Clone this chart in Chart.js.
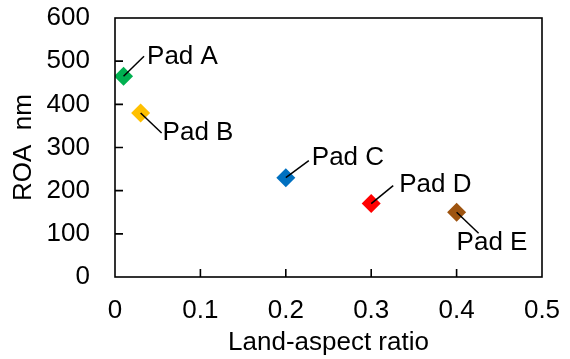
<!DOCTYPE html>
<html>
<head>
<meta charset="utf-8">
<script src="https://cdn.jsdelivr.net/npm/chart.js@4/dist/chart.umd.min.js"></script>
<style>
  html, body { margin: 0; padding: 0; background: #fff; }
  #wrap { width: 570px; height: 359px; }
</style>
</head>
<body>
<div id="wrap"><canvas id="c" width="570" height="359"></canvas></div>
<script>
const padNames = ["Pad A", "Pad B", "Pad C", "Pad D", "Pad E"];
const aspectRatio = [0.01, 0.03, 0.2, 0.3, 0.4];
const roaNm = [465, 380, 230, 170, 150];
const padColors = ["#00B050", "#FFC000", "#0070C0", "#FF0000", "#9E5410"];
const xTicks = [0, 0.1, 0.2, 0.3, 0.4, 0.5];
const yTicks = [0, 100, 200, 300, 400, 500, 600];

// label placement (leader line end offset from point, text anchor offset)
const labelPlacement = [
  { dx: 20.5, dy: -20, tx: 23.5, ty: -19 },
  { dx: 21, dy: 20, tx: 22, ty: 20 },
  { dx: 23, dy: -17, tx: 26, ty: -20 },
  { dx: 22, dy: -18, tx: 28, ty: -19 },
  { dx: 22, dy: 21, tx: 0, ty: 31 }
];

const font = "'Liberation Sans', Arial, sans-serif";

const framePlugin = {
  id: "frame",
  afterDraw(chart) {
    const { ctx, chartArea: a, scales } = chart;
    ctx.save();
    ctx.strokeStyle = "#000";
    ctx.lineWidth = 1.6;
    ctx.beginPath();
    yTicks.forEach(v => {
      if (v === yTicks[0] || v === yTicks[yTicks.length - 1]) return;
      const y = scales.y.getPixelForValue(v);
      ctx.moveTo(a.left, y); ctx.lineTo(a.left + 8, y);
    });
    xTicks.forEach(v => {
      if (v === xTicks[0] || v === xTicks[xTicks.length - 1]) return;
      const x = scales.x.getPixelForValue(v);
      ctx.moveTo(x, a.bottom); ctx.lineTo(x, a.bottom - 8);
    });
    ctx.stroke();
    ctx.strokeRect(a.left, a.top, a.right - a.left, a.bottom - a.top);
    ctx.restore();
  }
};

const labelPlugin = {
  id: "padLabels",
  afterDatasetsDraw(chart) {
    const { ctx, scales } = chart;
    ctx.save();
    ctx.strokeStyle = "#000";
    ctx.lineWidth = 1.5;
    ctx.fillStyle = "#000";
    ctx.font = "26px " + font;
    ctx.textBaseline = "middle";
    ctx.textAlign = "left";
    padNames.forEach((name, i) => {
      const px = scales.x.getPixelForValue(aspectRatio[i]);
      const py = scales.y.getPixelForValue(roaNm[i]);
      const p = labelPlacement[i];
      ctx.beginPath();
      ctx.moveTo(px, py);
      ctx.lineTo(px + p.dx, py + p.dy);
      ctx.stroke();
      ctx.fillText(name, px + p.tx, py + p.ty);
    });
    ctx.restore();
  }
};

new Chart(document.getElementById("c"), {
  type: "scatter",
  data: {
    datasets: [{
      data: aspectRatio.map((x, i) => ({ x, y: roaNm[i] })),
      pointStyle: "rectRot",
      pointRadius: 9.5,
      pointHoverRadius: 9.5,
      borderWidth: 0,
      backgroundColor: padColors,
      pointBackgroundColor: padColors,
      pointBorderColor: padColors
    }]
  },
  options: {
    responsive: false,
    animation: false,
    events: [],
    layout: { padding: { top: 18, right: 28, left: 0, bottom: 0 } },
    plugins: { legend: { display: false }, tooltip: { enabled: false } },
    scales: {
      x: {
        type: "linear",
        min: 0, max: 0.5,
        afterBuildTicks: s => { s.ticks = xTicks.map(v => ({ value: v })); },
        afterFit: s => { s.height = 82; s.paddingLeft = 0; s.paddingRight = 0; },
        grid: { display: false, drawTicks: false },
        border: { display: false },
        ticks: { color: "#000", font: { family: font, size: 26 }, padding: 18, maxRotation: 0,
                 callback: v => String(v) },
        title: { display: true, text: "Land-aspect ratio", color: "#000",
                 font: { family: font, size: 26 }, padding: { top: 0, bottom: 1 } }
      },
      y: {
        type: "linear",
        min: 0, max: 600,
        afterBuildTicks: s => { s.ticks = yTicks.map(v => ({ value: v })); },
        afterFit: s => { s.width = 115; s.paddingTop = 0; s.paddingBottom = 0; },
        grid: { display: false, drawTicks: false },
        border: { display: false },
        ticks: { color: "#000", font: { family: font, size: 26 }, padding: 25 },
        title: { display: true, text: "ROA  nm", color: "#000",
                 font: { family: font, size: 26 }, padding: { top: 8, bottom: 0 } }
      }
    }
  },
  plugins: [framePlugin, labelPlugin]
});
</script>
</body>
</html>
